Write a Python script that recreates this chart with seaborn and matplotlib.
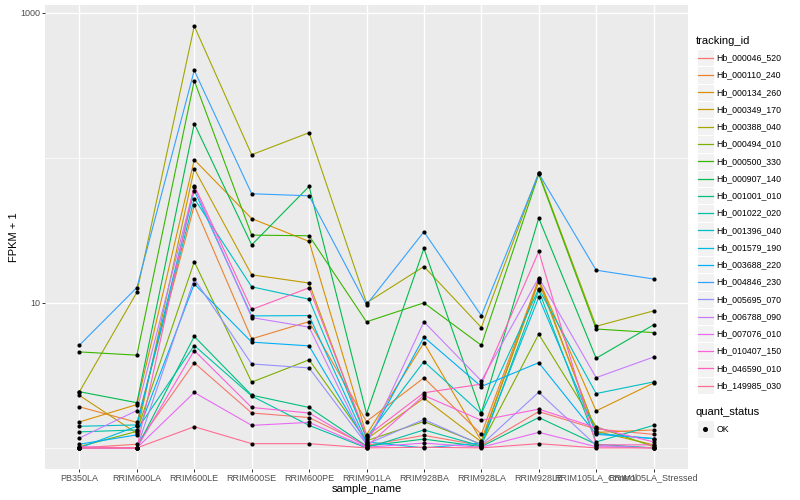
import numpy as np
import pandas as pd
import seaborn as sns
import matplotlib.pyplot as plt
from matplotlib.patches import Rectangle
from matplotlib.lines import Line2D
from matplotlib.ticker import NullFormatter

# Dati (FPKM + 1)
samples = ["PB350LA", "RRIM600LA", "RRIM600LE", "RRIM600SE", "RRIM600PE",
           "RRIM901LA", "RRIM928BA", "RRIM928LA", "RRIM928LE",
           "RRIM105LA_Control", "RRIM105LA_Stressed"]

hb_000046_520 = [1.0, 1.06, 3.86, 1.74, 1.62, 1.04, 1.22, 1.04, 1.78, 1.35, 1.24]
hb_000110_240 = [1.92, 1.50, 46.9, 5.65, 7.43, 1.52, 3.04, 1.24, 14.6, 1.28, 1.33]
hb_000134_260 = [1.51, 1.99, 97.0, 38.1, 26.5, 1.23, 5.3, 1.12, 14.4, 1.8, 2.8]
hb_000349_170 = [2.30, 1.26, 84.0, 15.6, 13.7, 1.15, 2.2, 1.10, 14.0, 1.3, 1.05]
hb_000388_040 = [2.44, 11.8, 809.0, 105.0, 149.0, 10.0, 17.8, 6.76, 79.0, 6.9, 8.8]
hb_000494_010 = [1.02, 1.30, 19.2, 2.84, 4.05, 1.12, 1.52, 1.06, 6.08, 1.4, 1.02]
hb_000500_330 = [4.59, 4.36, 340.0, 29.3, 29.0, 7.4, 10.0, 5.1, 77.0, 6.6, 6.24]
hb_000907_140 = [2.44, 2.05, 172.0, 25.1, 63.5, 1.72, 23.7, 1.74, 38.4, 4.15, 7.05]
hb_001001_010 = [1.0, 1.0, 5.87, 2.31, 1.90, 1.03, 1.15, 1.02, 1.62, 1.06, 1.0]
hb_001022_020 = [1.29, 1.33, 5.08, 2.28, 1.43, 1.0, 1.33, 1.03, 12.2, 1.1, 1.43]
hb_001396_040 = [1.41, 1.44, 52.4, 12.9, 10.6, 1.18, 3.94, 1.72, 12.5, 2.37, 2.85]
hb_001579_190 = [1.0, 1.41, 59.5, 8.13, 8.17, 1.10, 1.0, 1.08, 10.9, 1.26, 1.16]
hb_003688_220 = [1.06, 1.23, 13.5, 5.36, 5.05, 1.08, 5.8, 2.65, 3.87, 1.24, 1.16]
hb_004846_230 = [5.11, 12.75, 400.0, 56.5, 54.7, 9.7, 30.9, 8.17, 78.0, 16.8, 14.6]
hb_005695_070 = [1.0, 1.0, 14.6, 3.79, 3.56, 1.06, 1.57, 1.05, 2.42, 1.04, 1.0]
hb_006788_090 = [1.17, 1.81, 62.8, 7.92, 6.8, 1.05, 7.4, 2.9, 14.9, 3.05, 4.23]
hb_007076_010 = [1.0, 1.0, 2.41, 1.43, 1.5, 1.01, 1.08, 1.01, 1.28, 1.02, 1.0]
hb_010407_150 = [1.02, 1.0, 4.69, 1.90, 1.74, 1.02, 2.3, 1.55, 1.85, 1.38, 1.1]
hb_046590_010 = [1.0, 1.0, 64.4, 9.0, 12.7, 1.2, 2.4, 2.75, 22.6, 1.05, 1.05]
hb_149985_030 = [1.0, 1.0, 1.40, 1.07, 1.07, 1.0, 1.01, 1.0, 1.07, 1.0, 1.0]

tracking_ids = ["Hb_000046_520", "Hb_000110_240", "Hb_000134_260", "Hb_000349_170",
                "Hb_000388_040", "Hb_000494_010", "Hb_000500_330", "Hb_000907_140",
                "Hb_001001_010", "Hb_001022_020", "Hb_001396_040", "Hb_001579_190",
                "Hb_003688_220", "Hb_004846_230", "Hb_005695_070", "Hb_006788_090",
                "Hb_007076_010", "Hb_010407_150", "Hb_046590_010", "Hb_149985_030"]
series = [hb_000046_520, hb_000110_240, hb_000134_260, hb_000349_170, hb_000388_040,
          hb_000494_010, hb_000500_330, hb_000907_140, hb_001001_010, hb_001022_020,
          hb_001396_040, hb_001579_190, hb_003688_220, hb_004846_230, hb_005695_070,
          hb_006788_090, hb_007076_010, hb_010407_150, hb_046590_010, hb_149985_030]

# palette hue di ggplot (20 livelli)
hue_colors = ["#F8766D", "#EA8331", "#D89000", "#C09B00", "#A3A500", "#7CAE00",
              "#39B600", "#00BB4E", "#00BF7D", "#00C1A3", "#00BFC4", "#00BAE0",
              "#00B0F6", "#35A2FF", "#9590FF", "#C77CFF", "#E76BF3", "#FA62DB",
              "#FF62BC", "#FF6C91"]

rows = []
for tid, vals in zip(tracking_ids, series):
    for s, v in zip(samples, vals):
        rows.append({"tracking_id": tid, "sample_name": s, "fpkm": v, "quant_status": "OK"})
df = pd.DataFrame(rows)

# Stile
plt.rcParams['font.family'] = ['Liberation Sans', 'DejaVu Sans']
W, H = 800, 500
fig = plt.figure(figsize=(8, 5), dpi=100)
fig.patch.set_facecolor('white')
ax = fig.add_axes([45 / W, 31 / H, 643 / W, 464 / H])
ax.set_facecolor('#EBEBEB')

sns.lineplot(data=df, x="sample_name", y="fpkm", hue="tracking_id",
             hue_order=tracking_ids, palette=hue_colors, estimator=None,
             sort=False, lw=0.8, legend=False, ax=ax)
sns.scatterplot(data=df, x="sample_name", y="fpkm", color="black", s=9,
                linewidth=0, legend=False, ax=ax, zorder=3)

ax.set_yscale('log')
lo, hi = np.log10(df["fpkm"].min()), np.log10(df["fpkm"].max())
pad = 0.05 * (hi - lo)
ax.set_ylim(10 ** (lo - pad), 10 ** (hi + pad))
ax.set_xlim(-0.6, len(samples) - 0.4)

ax.set_yticks([10, 1000])
ax.set_yticklabels(["10", "1000"])
ax.set_yticks([1, 100], minor=True)
ax.yaxis.set_minor_formatter(NullFormatter())
ax.tick_params(which='minor', length=0)
ax.tick_params(which='major', length=2, width=0.7, color='#333333',
               labelcolor='#4D4D4D', labelsize=6.5, pad=1.3)

ax.set_axisbelow(True)
ax.grid(which='major', color='white', lw=1.0)
ax.grid(which='minor', axis='y', color='white', lw=0.5)
for sp in ax.spines.values():
    sp.set_visible(False)

ax.set_xlabel("sample_name", fontsize=8, color='black')
ax.xaxis.set_label_coords(0.5, -(489 - 469) / 464)
ax.xaxis.label.set_va('center')
ax.set_ylabel("FPKM + 1", fontsize=8, color='black')
ax.yaxis.set_label_coords(-(45 - 14) / 643, 0.5)
ax.yaxis.label.set_va('center')

# Legenda disegnata alla maniera di ggplot
def fx(px):
    return px / W

def fy(py):
    return 1 - py / H

key = 17.26
kx0 = 696.5
fig.text(fx(696), fy(40.7), "tracking_id", fontsize=8, va='center', ha='left')
for i, (tid, col) in enumerate(zip(tracking_ids, hue_colors)):
    cy = 57.7 + key * i
    fig.add_artist(Rectangle((fx(kx0), fy(cy + key / 2)), key / W, key / H,
                             transform=fig.transFigure, facecolor='#F2F2F2',
                             edgecolor='white', lw=0.8))
    fig.add_artist(Line2D([fx(kx0 + 1), fx(kx0 + key - 1)], [fy(cy), fy(cy)],
                          transform=fig.transFigure, color=col, lw=0.9))
    fig.text(fx(716.7), fy(cy), tid, fontsize=6.3, va='center', ha='left')

fig.text(fx(696), fy(411.7), "quant_status", fontsize=8, va='center', ha='left')
cy = 429
fig.add_artist(Rectangle((fx(kx0), fy(cy + key / 2)), key / W, key / H,
                         transform=fig.transFigure, facecolor='#F2F2F2',
                         edgecolor='white', lw=0.8))
fig.add_artist(Line2D([fx(kx0 + key / 2)], [fy(cy)], transform=fig.transFigure,
                      marker='o', markersize=2.6, color='black', lw=0))
fig.text(fx(716.7), fy(cy), "OK", fontsize=6.3, va='center', ha='left')

fig.savefig("out.png", dpi=100)
